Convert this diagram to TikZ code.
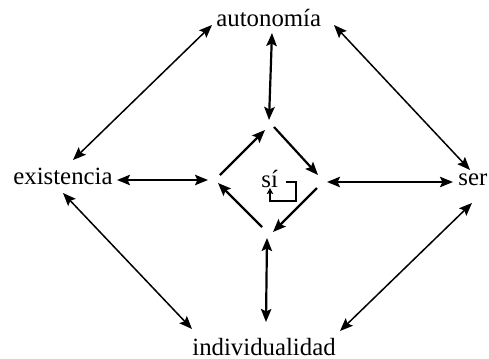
\documentclass[tikz,border=0pt]{standalone}
\usepackage{fontspec}
\setmainfont{Liberation Serif}
\usetikzlibrary{arrows.meta}
\begin{document}
\begin{tikzpicture}[x=0.5pt,y=-0.5pt,
  lbl/.style={inner sep=0pt,anchor=base west,font=\fontsize{12.4}{14}\selectfont},
  both/.style={line width=0.75pt,{Stealth[length=6.5pt,width=5.2pt,inset=1.2pt]}-{Stealth[length=6.5pt,width=5.2pt,inset=1.2pt]}},
  boththick/.style={line width=1.1pt,{Stealth[length=6.5pt,width=5.2pt,inset=1.2pt]}-{Stealth[length=6.5pt,width=5.2pt,inset=1.2pt]}},
  cyc/.style={line width=1.1pt,-{Stealth[length=6.5pt,width=5.2pt,inset=1.2pt]}},
  loopln/.style={line width=0.7pt,-{Stealth[length=3pt,width=3.2pt,inset=0.6pt]}}]
\useasboundingbox (0,0) rectangle (489,359);
% labels
\node[lbl] (aut) at (216,26) {autonomía};
\node[lbl] (exi) at (13,184) {existencia};
\node[lbl] (ser) at (458,185) {ser};
\node[lbl] (ind) at (192,355.5) {individualidad};
\node[lbl] (si)  at (261,187) {sí};
% endpoints
\coordinate (e1) at (73,160);  \coordinate (a1) at (212,25);
\coordinate (a2) at (334,25);  \coordinate (s1) at (470,170);
\coordinate (a3) at (272,33);  \coordinate (vt) at (269,120);
\coordinate (e2) at (117,180); \coordinate (vl) at (208,180);
\coordinate (s2) at (453,182); \coordinate (vr) at (327,182);
\coordinate (i1) at (266,322); \coordinate (vb) at (267,238);
\coordinate (e3) at (63,193);  \coordinate (i2) at (192,329);
\coordinate (s3) at (472,203); \coordinate (i3) at (340,331);
% diamond
\coordinate (d1s) at (220,175); \coordinate (d1e) at (265,130);
\coordinate (d2s) at (274,127); \coordinate (d2e) at (318,175);
\coordinate (d3s) at (317,188); \coordinate (d3e) at (273,232);
\coordinate (d4s) at (262,227); \coordinate (d4e) at (218,183);
% loop
\coordinate (l1) at (286,182); \coordinate (l2) at (296,182);
\coordinate (l3) at (296,201); \coordinate (l4) at (270,201);
\coordinate (l5) at (270,188);
% connectors
\draw[both] (e1) -- (a1);
\draw[both] (a2) -- (s1);
\draw[boththick] (a3) -- (vt);
\draw[both,line width=0.9pt] (e2) -- (vl);
\draw[both,line width=0.9pt] (s2) -- (vr);
\draw[boththick] (i1) -- (vb);
\draw[both] (e3) -- (i2);
\draw[both] (s3) -- (i3);
\draw[cyc] (d1s) -- (d1e);
\draw[cyc] (d2s) -- (d2e);
\draw[cyc] (d3s) -- (d3e);
\draw[cyc] (d4s) -- (d4e);
\draw[loopln] (l1) -- (l2) -- (l3) -- (l4) -- (l5);
\end{tikzpicture}
\end{document}
